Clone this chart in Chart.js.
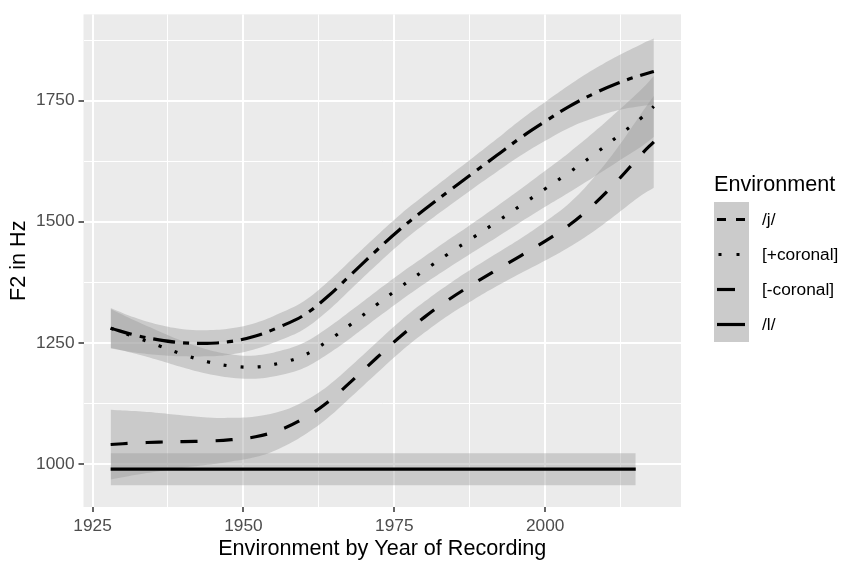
<!DOCTYPE html>
<html>
<head>
<meta charset="utf-8">
<script src="https://cdn.jsdelivr.net/npm/chart.js@4.4.1/dist/chart.umd.min.js"></script>
<style>
  body { margin: 0; background: #fff; font-family: "Liberation Sans", Arial, sans-serif; }
  #wrap { position: relative; width: 844px; height: 564px; }
  #legend { position: absolute; left: 714px; top: 171px; }
  #legend .ttl { font-size: 21.6px; line-height: 26px; height: 26px; margin-bottom: 5px; color: #000; white-space: nowrap; }
  #legend .row { display: flex; align-items: center; height: 35px; }
  #legend .key { width: 35px; height: 35px; background: #cbcbcb; }
  #legend .lab { margin-left: 13px; font-size: 17.3px; color: #000; white-space: nowrap; }
</style>
</head>
<body>
<div id="wrap">
  <canvas id="chart" width="844" height="564"></canvas>
  <div id="legend"></div>
</div>
<script>
// smoothed F2 values
const years = [1928, 1932, 1936, 1940, 1944, 1948, 1952, 1956, 1960, 1964, 1968, 1972,
               1976, 1980, 1984, 1988, 1992, 1996, 2000, 2004, 2008, 2012, 2016, 2018];

const jVals  = [1280, 1266, 1256, 1250, 1249, 1253, 1264, 1283, 1307, 1346, 1393, 1440,
                1485, 1525, 1563, 1600, 1637, 1674, 1707, 1738, 1764, 1786, 1803, 1810];
const jLow   = [1238, 1230, 1225, 1222, 1222, 1226, 1237, 1255, 1278, 1316, 1363, 1410,
                1455, 1495, 1532, 1568, 1603, 1637, 1667, 1694, 1714, 1730, 1739, 1742];
const jHigh  = [1322, 1302, 1287, 1278, 1276, 1280, 1291, 1311, 1336, 1376, 1423, 1470,
                1515, 1555, 1594, 1632, 1671, 1711, 1747, 1782, 1814, 1842, 1867, 1878];

const pcVals = [1280, 1262, 1244, 1226, 1211, 1202, 1200, 1208, 1224, 1254, 1290, 1328,
                1365, 1400, 1434, 1467, 1500, 1534, 1568, 1602, 1638, 1676, 1715, 1738];
const pcLow  = [1240, 1228, 1214, 1199, 1186, 1178, 1176, 1183, 1198, 1227, 1262, 1300,
                1337, 1372, 1405, 1437, 1468, 1500, 1531, 1561, 1592, 1624, 1656, 1675];
const pcHigh = [1320, 1296, 1274, 1253, 1236, 1226, 1224, 1233, 1250, 1281, 1318, 1356,
                1393, 1428, 1463, 1497, 1532, 1568, 1605, 1643, 1684, 1728, 1774, 1801];

const mcVals = [1040, 1043, 1045, 1046, 1047, 1050, 1056, 1070, 1094, 1128, 1172, 1218,
                1263, 1303, 1339, 1371, 1401, 1430, 1460, 1493, 1535, 1585, 1640, 1665];
const mcLow  = [968, 977, 985, 992, 998, 1005, 1014, 1032, 1059, 1095, 1140, 1186,
                1231, 1271, 1307, 1338, 1367, 1394, 1420, 1448, 1480, 1517, 1555, 1570];
const mcHigh = [1112, 1109, 1105, 1100, 1096, 1095, 1098, 1108, 1129, 1161, 1204, 1250,
                1295, 1335, 1371, 1404, 1435, 1466, 1500, 1538, 1590, 1653, 1725, 1760];

const lYears = [1928, 2015];
const lVals  = [989, 989];
const lLow   = [956, 956];
const lHigh  = [1022, 1022];

const xMajor = [1925, 1950, 1975, 2000];
const xMinor = [1937.5, 1962.5, 1987.5, 2012.5];
const yMajor = [1000, 1250, 1500, 1750];
const yMinor = [1125, 1375, 1625, 1875];

const legendItems = [
  { label: '/j/',        dash: '9 10' },
  { label: '[+coronal]', dash: '3 15', offset: 1.5 },
  { label: '[-coronal]', dash: '18 20' },
  { label: '/l/',        dash: '' }
];

Chart.defaults.font.family = '"Liberation Sans", Arial, sans-serif';

const pts = (xs, ys) => xs.map((x, i) => ({ x: x, y: ys[i] }));
const bandFill = 'rgba(153,153,153,0.4)';

function line(data, dash) {
  return {
    data: data, borderColor: '#000', borderWidth: 3.2, borderDash: dash,
    fill: false, pointRadius: 0, tension: 0.4
  };
}
function bandTop(data) {
  return { data: data, borderWidth: 0, pointRadius: 0, fill: '+1',
           backgroundColor: bandFill, tension: 0.4 };
}
function bandBottom(data) {
  return { data: data, borderWidth: 0, pointRadius: 0, fill: false, tension: 0.4 };
}

const panelBg = {
  id: 'panelBg',
  beforeDraw(chart) {
    const { ctx, chartArea: a } = chart;
    ctx.save();
    ctx.fillStyle = '#ebebeb';
    ctx.fillRect(a.left, a.top, a.right - a.left, a.bottom - a.top);
    ctx.restore();
  }
};

const isMajor = (list, c) => c.tick && list.includes(c.tick.value);

const chart = new Chart(document.getElementById('chart').getContext('2d'), {
  type: 'line',
  data: {
    datasets: [
      line(pts(years, jVals), [22, 8, 6, 8]),
      line(pts(years, pcVals), [3, 14]),
      line(pts(years, mcVals), [17, 18]),
      line(pts(lYears, lVals), []),
      bandTop(pts(years, jHigh)), bandBottom(pts(years, jLow)),
      bandTop(pts(years, pcHigh)), bandBottom(pts(years, pcLow)),
      bandTop(pts(years, mcHigh)), bandBottom(pts(years, mcLow)),
      bandTop(pts(lYears, lHigh)), bandBottom(pts(lYears, lLow))
    ]
  },
  options: {
    responsive: false,
    animation: false,
    layout: { padding: { top: 5, right: 163, left: 0, bottom: 0 } },
    plugins: { legend: { display: false }, tooltip: { enabled: false } },
    scales: {
      x: {
        type: 'linear', min: 1923.5, max: 2022.5,
        afterBuildTicks: s => { s.ticks = xMajor.concat(xMinor).sort((a, b) => a - b).map(v => ({ value: v })); },
        afterFit: s => { s.height = 57; },
        border: { display: false },
        grid: {
          color: '#fff',
          lineWidth: c => isMajor(xMajor, c) ? 2 : 1,
          tickColor: c => isMajor(xMajor, c) ? '#333' : 'rgba(0,0,0,0)',
          tickLength: 5, tickWidth: 1.5
        },
        ticks: {
          autoSkip: false, maxRotation: 0, padding: 4, color: '#4d4d4d',
          font: { size: 17.3 },
          callback: v => xMajor.includes(v) ? String(v) : ''
        },
        title: {
          display: true, text: 'Environment by Year of Recording', color: '#000',
          font: { size: 21.6 }, padding: { top: 0, bottom: 2 }
        }
      },
      y: {
        type: 'linear', min: 911, max: 1928,
        afterBuildTicks: s => { s.ticks = yMajor.concat(yMinor).sort((a, b) => a - b).map(v => ({ value: v })); },
        afterFit: s => { s.width = 83.5; },
        border: { display: false },
        grid: {
          color: '#fff',
          lineWidth: c => isMajor(yMajor, c) ? 2 : 1,
          tickColor: c => isMajor(yMajor, c) ? '#333' : 'rgba(0,0,0,0)',
          tickLength: 5, tickWidth: 1.5
        },
        ticks: {
          autoSkip: false, padding: 4, color: '#4d4d4d',
          font: { size: 17.3 },
          callback: v => yMajor.includes(v) ? String(v) : ''
        },
        title: {
          display: true, text: 'F2 in Hz', color: '#000',
          font: { size: 21.6 }, padding: { top: 6, bottom: 0 }
        }
      }
    }
  },
  plugins: [panelBg]
});

// ggplot-style legend on the right
const legend = document.getElementById('legend');
let html = '<div class="ttl">Environment</div>';
legendItems.forEach(item => {
  html += '<div class="row"><svg class="key" width="35" height="35">' +
    '<line x1="' + (3 + (item.offset || 0)) + '" y1="17.5" x2="31" y2="17.5" stroke="#000" stroke-width="3.2"' +
    (item.dash ? ' stroke-dasharray="' + item.dash + '"' : '') + '/></svg>' +
    '<span class="lab">' + item.label + '</span></div>';
});
legend.innerHTML = html;
</script>
</body>
</html>
